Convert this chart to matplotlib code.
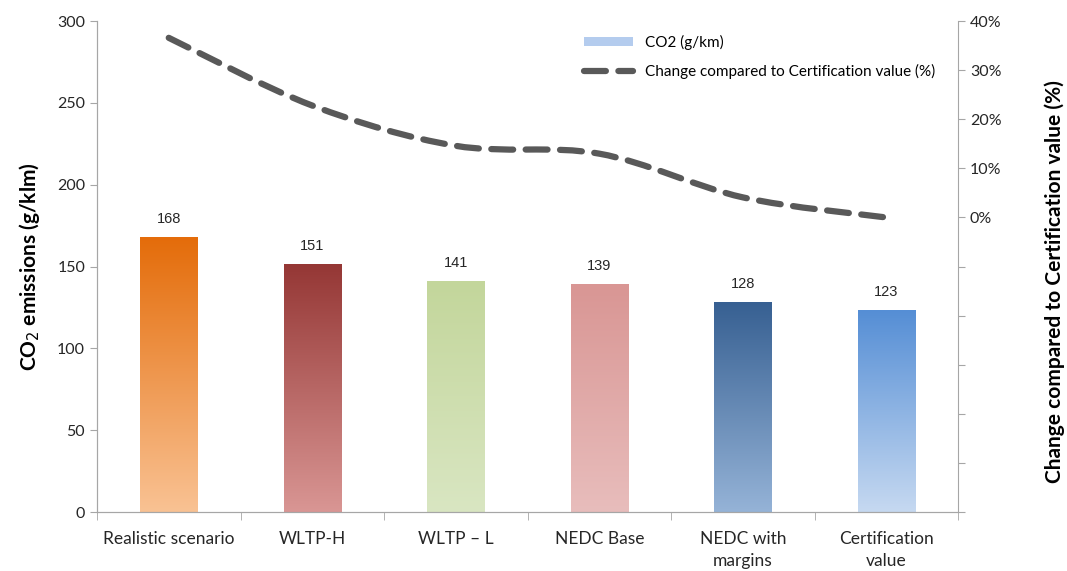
import matplotlib
matplotlib.use("Agg")
import matplotlib.pyplot as plt
import numpy as np
from matplotlib.colors import LinearSegmentedColormap
from matplotlib.path import Path
from matplotlib.patches import PathPatch, Patch
from matplotlib.lines import Line2D
from matplotlib.ticker import FuncFormatter, MultipleLocator

plt.rcParams["font.family"] = ["Lato", "DejaVu Sans"]

categories = ["Realistic scenario", "WLTP-H", "WLTP \u2013 L", "NEDC Base", "NEDC with\nmargins", "Certification\nvalue"]
co2 = [168, 151, 141, 139, 128, 123]
change_pct = [36.6, 22.8, 14.6, 13.0, 4.1, 0.0]

# gradient colours (top, bottom) for each bar
top_colors = ["#E46C0A", "#953735", "#C3D69B", "#D99694", "#376092", "#558ED5"]
bottom_colors = ["#F9C293", "#D99694", "#D9E6C2", "#E8BDBC", "#95B3D7", "#C6D9F1"]

fig = plt.figure(figsize=(10.67, 5.71), dpi=100)
ax = fig.add_axes([0.0909, 0.1033, 0.807, 0.8597])
ax2 = ax.twinx()

x = np.arange(len(categories))
width = 0.4
grad = np.linspace(1, 0, 256).reshape(-1, 1)
for xi, v, c_top, c_bot in zip(x, co2, top_colors, bottom_colors):
    cmap = LinearSegmentedColormap.from_list("g", [c_bot, c_top])
    ax.imshow(grad, extent=[xi - width / 2, xi + width / 2, 0, v], aspect="auto",
              cmap=cmap, vmin=0, vmax=1, zorder=2, interpolation="bicubic")
    ax.text(xi, v + 7, f"{v}", ha="center", va="bottom", fontsize=10.5,
            family=["Liberation Sans", "DejaVu Sans"], color="#262626")

ax.set_xlim(-0.5, len(categories) - 0.5)
ax.set_ylim(0, 300)
ax.yaxis.set_major_locator(MultipleLocator(50))
ax.set_xticks(x)
ax.set_xticklabels(categories, fontsize=12.5, color="#262626", linespacing=1.45)
ax.set_xticks(np.arange(len(categories) + 1) - 0.5, minor=True)
ax.tick_params(axis="x", which="major", length=0, pad=14)
ax.tick_params(axis="x", which="minor", length=6, color="#A6A6A6")
ax.tick_params(axis="y", length=5, color="#A6A6A6", labelsize=11.5, labelcolor="#262626")
ax.set_ylabel("CO$_2$ emissions (g/klm)", fontsize=15, fontweight="bold")
ax.yaxis.set_label_coords(-0.064, 0.5)

# smoothed dashed line via cubic Bezier segments through the data points
pts = np.column_stack([x, change_pct]).astype(float)
verts = [tuple(pts[0])]
codes = [Path.MOVETO]
n = len(pts)
for i in range(n - 1):
    p0 = pts[max(i - 1, 0)]
    p1 = pts[i]
    p2 = pts[i + 1]
    p3 = pts[min(i + 2, n - 1)]
    c1 = p1 + (p2 - p0) / 6
    c2 = p2 - (p3 - p1) / 6
    verts += [tuple(c1), tuple(c2), tuple(p2)]
    codes += [Path.CURVE4] * 3
line = PathPatch(Path(verts, codes), fill=False, edgecolor="#595959", linewidth=4.5,
                 linestyle=(0, (3.5, 2)), capstyle="round", zorder=3)
ax2.add_patch(line)

ax2.set_ylim(-60, 40)
ax2.yaxis.set_major_locator(MultipleLocator(10))
ax2.yaxis.set_major_formatter(FuncFormatter(lambda v, p: f"{v:.0f}%" if v >= 0 else ""))
ax2.tick_params(axis="y", length=5, color="#A6A6A6", labelsize=11.5, labelcolor="#262626")
ax2.set_ylabel("Change compared to Certification value (%)", fontsize=15, fontweight="bold")
ax2.yaxis.set_label_coords(1.1, 0.47)

for a in (ax, ax2):
    a.spines["top"].set_visible(False)
    for s in ("left", "right", "bottom"):
        a.spines[s].set_color("#A6A6A6")
ax.spines["right"].set_visible(False)

handles = [Patch(facecolor="#B4CCEE", edgecolor="none"),
           Line2D([0], [0], color="#595959", linewidth=4.5, linestyle=(0, (3.5, 2)),
                  dash_capstyle="round")]
ax2.legend(handles, ["CO2 (g/km)", "Change compared to Certification value (%)"],
           loc="upper right", bbox_to_anchor=(0.99, 1.0), frameon=False, fontsize=11,
           handlelength=3.2, labelspacing=0.9, handleheight=0.6)

fig.savefig("out.png", dpi=100)
